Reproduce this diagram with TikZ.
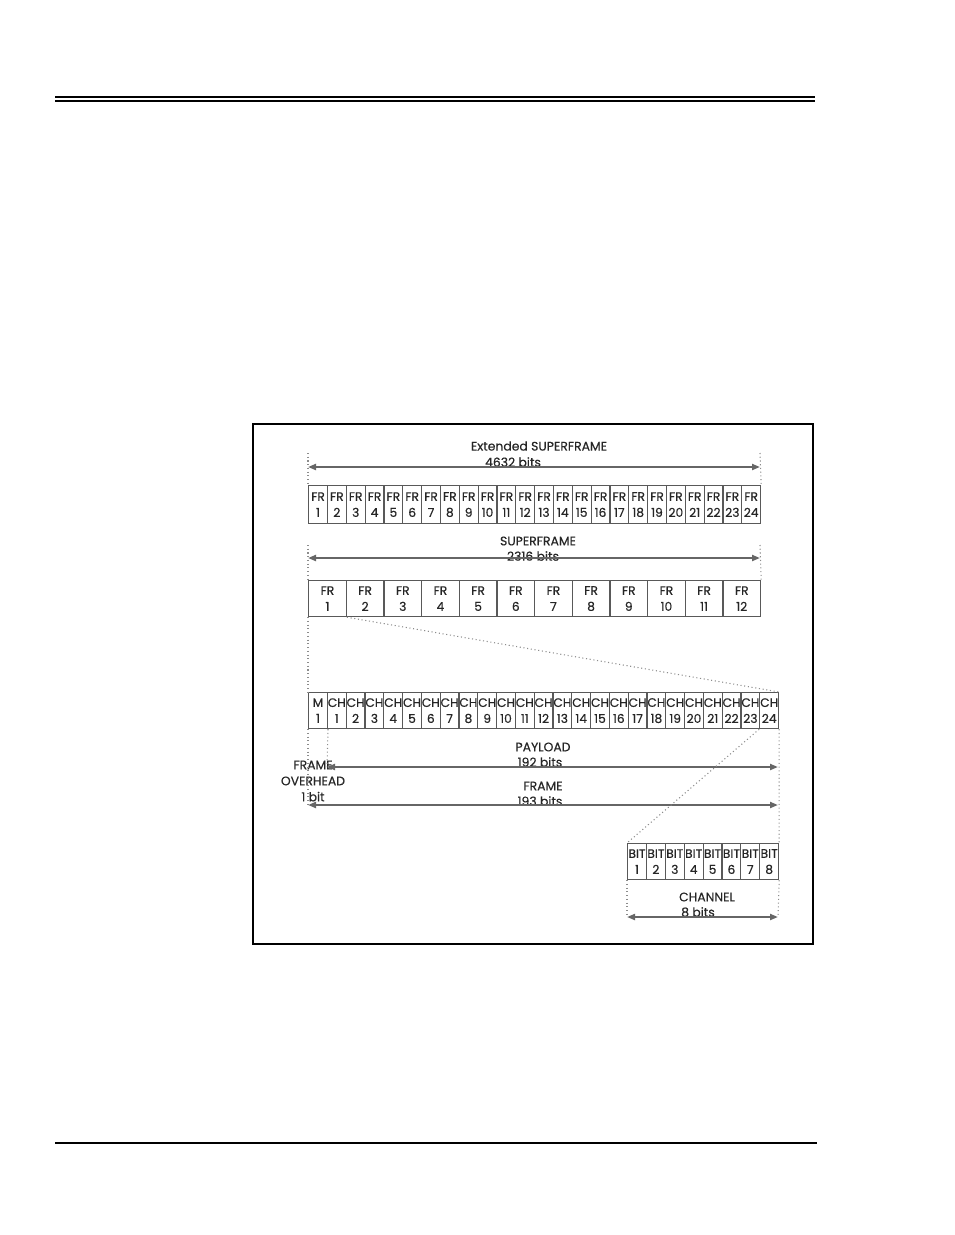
\documentclass[tikz,border=0pt]{standalone}
\usepackage{fontspec}
\setmainfont{Poppins}
\newfontfamily\dfont{Poppins}[FakeBold=0.4]
\usetikzlibrary{arrows.meta}
\begin{document}
\begin{tikzpicture}[x=0.75pt,y=-0.75pt,
  cell/.style={draw=black!65, line width=0.9pt, inner sep=0pt, align=center, text=black!85,
    font=\dfont\fontsize{9.2}{12}\selectfont, anchor=north west},
  lbl/.style={text=black!85, font=\dfont\fontsize{9.3}{12}\selectfont, inner sep=0pt, align=center},
  dimarrow/.style={draw=black!60, line width=1.5pt,
    {Triangle[length=6pt,width=4.5pt]}-{Triangle[length=6pt,width=4.5pt]}},
  guide/.style={draw=black!45, dotted, line width=0.8pt},
]
\useasboundingbox (0,0) rectangle (954,1235);
% page rules
\draw[line width=0.9pt] (55,97) -- (815,97);
\draw[line width=1.8pt] (55,100.7) -- (815,100.7);
\draw[line width=2pt] (55,1143) -- (817,1143);
% figure frame
\draw[line width=0.8pt] (253,424) rectangle (813,944);

% Extended superframe
\node[lbl] (esft) at (539,446) {Extended SUPERFRAME};
\node[lbl] (esfb) at (513,462) {4632 bits};
\foreach \i in {1,...,24}
  \node[cell, minimum width=14.125pt, minimum height=28.5pt] (esf\i) at ({308+(\i-1)*18.8333},485) {FR\\\i};
\coordinate (esfA) at (308,467);
\coordinate (esfB) at (760,467);
\coordinate (esfGA) at (308,453);
\coordinate (esfGB) at (760,453);
\draw[guide] (esfGA) -- (esf1.north west);
\draw[guide] (esfGB) -- (esf24.north east);
\draw[dimarrow] (esfA) -- (esfB);

% Superframe
\node[lbl] (sft) at (538,541) {SUPERFRAME};
\node[lbl] (sfb) at (533,556) {2316 bits};
\foreach \i in {1,...,12}
  \node[cell, minimum width=28.25pt, minimum height=27pt] (sf\i) at ({308+(\i-1)*37.6667},580) {FR\\\i};
\coordinate (sfA) at (308,558);
\coordinate (sfB) at (760,558);
\coordinate (sfGA) at (308,545);
\coordinate (sfGB) at (760,545);
\draw[guide] (sfGA) -- (sf1.north west);
\draw[guide] (sfGB) -- (sf12.north east);
\draw[dimarrow] (sfA) -- (sfB);

% Frame
\node[cell, minimum width=14.1pt, minimum height=27pt] (m) at (308,692) {M\\1};
\foreach \i in {1,...,24}
  \node[cell, minimum width=14.1pt, minimum height=27pt] (ch\i) at ({308+\i*18.8},692) {CH\\\i};
\draw[guide] (sf1.south west) -- (m.north west);
\draw[guide] (sf1.south east) -- (ch24.north east);

\node[lbl] (plt) at (543,747) {PAYLOAD};
\node[lbl] (plb) at (540,762) {192 bits};
\node[lbl] (frt) at (543,786) {FRAME};
\node[lbl] (frb) at (540,801) {193 bits};
\node[lbl] (oh) at (313,781) {FRAME\\OVERHEAD\\1 bit};

\coordinate (plA) at (327,767);
\coordinate (plB) at (778,767);
\coordinate (frA) at (308,805);
\coordinate (frB) at (778,805);
\draw[guide] (m.south west) -- (frA);
\draw[guide] (m.south east) -- (plA);
\draw[dimarrow] (plA) -- (plB);
\draw[dimarrow] (frA) -- (frB);

% Channel bits
\foreach \i in {1,...,8}
  \node[cell, minimum width=14.156pt, minimum height=27pt] (bit\i) at ({627+(\i-1)*18.875},843) {BIT\\\i};
\draw[guide] (ch24.south east) -- (bit8.north east);
\draw[guide] (ch24.south west) -- (bit1.north west);

\node[lbl] (cht) at (707,897) {CHANNEL};
\node[lbl] (chb) at (698,912) {8 bits};
\coordinate (chA) at (627,917);
\coordinate (chB) at (778,917);
\draw[guide] (bit1.south west) -- (chA);
\draw[guide] (bit8.south east) -- (chB);
\draw[dimarrow] (chA) -- (chB);
\end{tikzpicture}
\end{document}
